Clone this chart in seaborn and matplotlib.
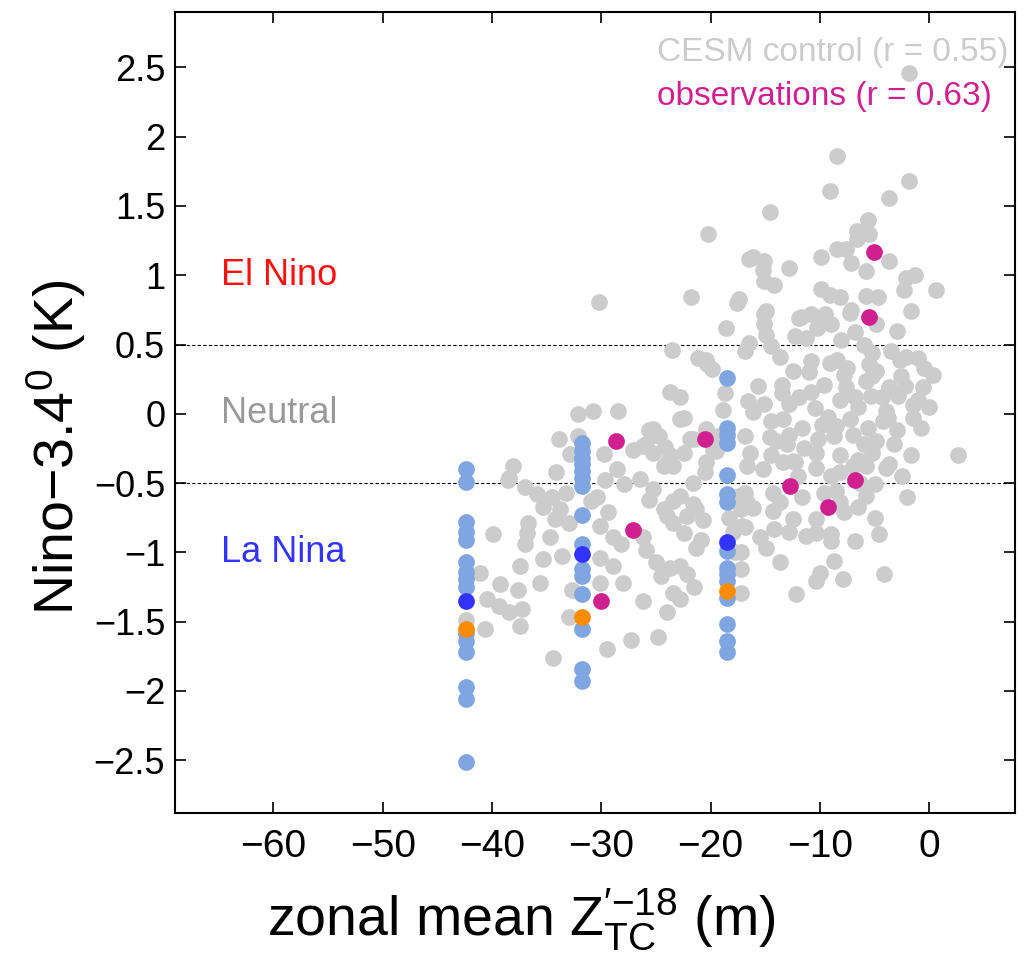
import numpy as np
import pandas as pd
import matplotlib
matplotlib.use("Agg")
import matplotlib.pyplot as plt
import seaborn as sns

# ---------------- data ----------------
cesm_x = [-1.9, -8.4, -1.9, -9.1, -3.7, -14.6, -5.6, -6.6, -5.5, -6.6, -8.4, -7.6, -9.9, -16.1, -15.1, -12.8,
          -7.2, -3.7, -5.8, -15.2, -2.1, -1.3, -15.1, -14.2, 0.6, -2.3, -9.9, -9.1, -8.2, -5.8, -4.7, -17.4,
          -14.9, -7.2, -1.7, -11.7, -10.8,
          -20.2, -16.5, -30.2, -21.8, -17.6, -18.6, -23.5, -21.2, -20.3, -19.9, -16.9, -16.5,
          -15.1, -15.1, -11.9, -9.5, -10.0, -9.0, -7.3, -4.9, -14.9, -12.3, -11.3, -10.3, -6.8, -8.1, -14.5,
          -13.7, -12.5, -9.1, -8.4, -7.5, -5.2, -5.5, -2.7, -2.1, -0.5, -4.9,
          -15.7, -13.5, -10.8, -9.6, -7.6, -5.8, -5.2, -3.7, -2.6, -0.6, -16.6, -15.1, -12.8, -11.9, -10.5,
          -8.2, -6.8, -5.3, -4.3, -2.9, -1.5,
          -16.1, -14.5, -13.4, -11.6, -9.3, -8.5, -7.3, -5.6, -3.8, -1.5, -16.9, -14.6, -12.8, -10.2, -8.7,
          -7.0, -4.9, -3.2,
          -16.4, -14.5, -12.5, -10.4, -8.2, -6.5, -5.2, -3.7, -1.7, 2.6,
          -16.7, -15.2, -13.4, -12.3, -10.4, -8.2, -7.0, -5.8, -4.0,
          -16.9, -16.7, -14.3, -13.7, -11.6, -9.6, -8.5, -8.2, -5.8, -5.0,
          -16.1, -14.3, -12.5, -10.4, -7.8, -6.5, -5.0, -16.9, -14.2, -12.8, -11.3, -10.4, -9.0, -15.5, -14.9,
          -13.7, -9.0, -6.8, -4.6, -8.7, -10.0, -10.4, -7.9, -4.1, -12.2, -17.2, -17.2, -17.2,
          -33.9, -32.1, -32.9, -34.1, -38.1, -38.5, -37.0, -35.9, -34.5, -33.2, -35.3, -33.8, -34.2, -33.0,
          -36.7, -36.8, -37.0, -34.7, -39.9, -35.3, -33.6, -37.4, -35.6, -39.3, -37.6, -40.5, -39.4, -38.4,
          -37.3, -37.4, -40.6, -41.1, -34.4, -33.0, -32.7, -30.1, -29.4, -30.1, -28.9, -30.1, -28.0, -28.9,
          -28.2, -26.2, -25.9, -26.2, -27.3, -24.8, -29.5, -30.9, -30.4, -29.8, -28.6, -29.7, -27.9, -27.1,
          -26.2, -25.3, -25.3, -26.5, -25.3, -25.6, -24.3, -23.4, -23.7, -22.4, -22.8, -21.6, -24.3, -23.4,
          -24.0, -23.4, -22.2, -22.4, -22.8, -21.6, -20.5, -21.6, -21.3, -20.7, -20.9, -21.3, -20.4, -19.8,
          -19.3, -25.0, -23.7, -22.8, -24.5, -22.2, -21.5, -23.4, -24.0, -22.8, -17.8, -18.3, -17.1,
          -18.0, -17.2, -17.4, -18.3,
          -38.4, -32.1, -30.8, -28.5, -23.7, -22.8, -22.4, -25.6, -24.7, -25.9, -24.2, -23.9, -21.9, -20.4,
          -19.5, -18.7, -18.9, -20.4, -42.4,
          -11.0, -6.5, -4.0, -9.8, -6.0, -11.5, -3.0, -13.5, -7.8, -2.2, -3.5, -6.0, -12.0, -9.0, -2.5,
          -14.0, -1.0, 0.0, -0.8, -1.0, 0.3, -3.0, -4.2, -6.3, -10.8, -13.0, -2.0]
cesm_y = [2.46, 1.86, 1.68, 1.61, 1.56, 1.46, 1.40, 1.32, 1.30, 1.26, 1.19, 1.19, 1.13, 1.13, 1.10, 1.05,
          1.09, 1.10, 1.03, 1.04, 0.98, 1.00, 0.96, 0.93, 0.89, 0.89, 0.90, 0.86, 0.84, 0.85, 0.84, 0.83,
          0.74, 0.75, 0.74, 0.70, 0.72,
          1.30, 1.12, 0.81, 0.84, 0.80, 0.62, 0.46, 0.40, 0.36, 0.32, 0.45, 0.51,
          0.72, 0.65, 0.69, 0.72, 0.65, 0.65, 0.73, 0.65, 0.57, 0.56, 0.55, 0.62, 0.59, 0.53, 0.49,
          0.41, 0.31, 0.37, 0.39, 0.33, 0.44, 0.36, 0.39, 0.41, 0.33, 0.31,
          0.20, 0.21, 0.16, 0.21, 0.19, 0.24, 0.27, 0.19, 0.27, 0.19, 0.09, 0.07, 0.07, 0.12, 0.04,
          0.10, 0.12, 0.13, 0.12, 0.13, 0.06,
          0.01, -0.05, -0.04, -0.10, -0.02, -0.09, -0.04, -0.10, -0.03, -0.03, -0.16, -0.17, -0.15, -0.18, -0.16,
          -0.15, -0.20, -0.22,
          -0.28, -0.30, -0.34, -0.28, -0.30, -0.33, -0.28, -0.36, -0.30, -0.30,
          -0.38, -0.40, -0.35, -0.35, -0.39, -0.42, -0.38, -0.38, -0.39,
          -0.57, -0.64, -0.57, -0.64, -0.60, -0.57, -0.56, -0.64, -0.59, -0.51,
          -0.68, -0.70, -0.76, -0.76, -0.71, -0.67, -0.75, -0.82, -0.83, -0.85, -0.88, -0.86, -0.87, -0.89, -0.97,
          -1.07, -0.92, -0.92, -0.87, -1.06, -1.15, -1.21, -1.19, -1.16, -1.30, -1.29, -1.00, -1.12,
          -0.18, -0.16, -0.29, -0.42, -0.38, -0.48, -0.53, -0.58, -0.60, -0.57, -0.67, -0.69, -0.76, -0.79,
          -0.79, -0.86, -0.94, -0.89, -0.87, -1.05, -1.03, -1.10, -1.22, -1.23, -1.27, -1.34, -1.39, -1.43,
          -1.41, -1.53, -1.55, -1.15, -1.76, -1.47, -1.27, -0.81, -0.71, -1.04, -1.10, -1.22, -1.22, -0.89,
          -0.94, -0.89, -0.98, -1.35, -1.63, -1.61, -1.70, -0.63, -0.60, -0.29, -0.40, -0.48, -0.51, -0.26,
          -0.23, -0.11, -0.28, -0.47, -0.54, -0.62, -0.38, -0.38, -0.30, -0.28, -0.04, -0.18, -0.69, -0.63,
          -0.74, -0.79, -0.74, -0.86, -0.59, -0.50, -0.42, -0.65, -0.69, -0.77, -0.91, -0.97, -0.35, -0.26,
          -0.16, -1.07, -1.11, -1.10, -1.17, -1.16, -1.25, -1.29, -1.43, -1.34, -1.00, -1.13, -0.81,
          -0.85, -0.69, -0.59, -0.75,
          -0.46, 0.00, 0.02, 0.02, 0.16, 0.12, -0.03, -0.12, -0.16, -0.22, -0.24, -0.34, -0.18, -0.11,
          -0.27, 0.15, 0.03, 0.39, -1.49,
          0.30, 0.05, 0.02, -0.08, -0.22, -0.25, -0.12, 0.15, 0.28, 0.20, 0.45, 0.50, -0.45, -0.45, -0.45,
          -0.20, 0.10, 0.05, -0.10, 0.40, 0.28, 0.60, -0.05, -0.50, 0.38, -0.22, -0.60]

col_x = [-42.4, -31.8, -18.5]
col1_y = [-0.40, -0.49, -0.78, -0.85, -0.91, -1.07, -1.14, -1.19, -1.25, -1.58, -1.64, -1.72, -1.97, -2.06, -2.51]
col2_y = [-0.21, -0.27, -0.32, -0.36, -0.41, -0.46, -0.52, -0.73, -0.94, -1.12, -1.17, -1.30, -1.55, -1.84, -1.93]
col3_y = [0.26, -0.10, -0.15, -0.21, -0.44, -0.58, -0.64, -0.99, -1.11, -1.16, -1.21, -1.33, -1.52, -1.64, -1.72]
darkblue_y = [-1.35, -1.01, -0.925]
orange_y = [-1.55, -1.47, -1.28]

obs_x = [-28.7, -20.5, -27.1, -30.0, -12.7, -9.3, -6.8, -5.5, -5.1]
obs_y = [-0.20, -0.18, -0.84, -1.35, -0.52, -0.67, -0.48, 0.70, 1.17]

x_ticks = [-60, -50, -40, -30, -20, -10, 0]
y_ticks = [-2.5, -2, -1.5, -1, -0.5, 0, 0.5, 1, 1.5, 2, 2.5]

# ---------------- plot ----------------
sns.set_style("white")
plt.rcParams['font.family'] = ['Liberation Sans', 'DejaVu Sans']
plt.rcParams['mathtext.fontset'] = 'custom'
plt.rcParams['mathtext.rm'] = 'Liberation Sans'
plt.rcParams['mathtext.it'] = 'Liberation Sans'
plt.rcParams['axes.unicode_minus'] = True
plt.rcParams['text.color'] = 'black'
plt.rcParams['axes.labelcolor'] = 'black'
plt.rcParams['xtick.color'] = 'black'
plt.rcParams['ytick.color'] = 'black'

fig = plt.figure(figsize=(10.29, 9.63), dpi=100)
ax = fig.add_axes([0.170, 0.156, 0.816, 0.8315])

S = 145
grey = "#CCCCCC"
lblue = "#7FA6E0"
dblue = "#3333FF"
orange = "#FF8C00"
magenta = "#D0208F"

ax.axhline(0.5, color="black", lw=0.8, ls=(0, (3, 2)), zorder=1)
ax.axhline(-0.5, color="black", lw=0.8, ls=(0, (3, 2)), zorder=1)

df_c = pd.DataFrame({"x": cesm_x, "y": cesm_y})
sns.scatterplot(data=df_c, x="x", y="y", color=grey, s=S, linewidth=0, ax=ax, zorder=2)

bx = [col_x[0]] * len(col1_y) + [col_x[1]] * len(col2_y) + [col_x[2]] * len(col3_y)
by = col1_y + col2_y + col3_y
sns.scatterplot(x=bx, y=by, color=lblue, s=S, linewidth=0, ax=ax, zorder=3)
sns.scatterplot(x=col_x, y=darkblue_y, color=dblue, s=S, linewidth=0, ax=ax, zorder=4)
sns.scatterplot(x=col_x, y=orange_y, color=orange, s=S, linewidth=0, ax=ax, zorder=4)
sns.scatterplot(x=obs_x, y=obs_y, color=magenta, s=S, linewidth=0, ax=ax, zorder=5)

ax.set_xlim(-69, 7.8)
ax.set_ylim(-2.88, 2.9)
ax.set_xticks(x_ticks)
ax.set_yticks(y_ticks)
ax.set_xticklabels([f"{t:g}".replace("-", "\u2212") for t in x_ticks])
ax.set_yticklabels([f"{t:g}".replace("-", "\u2212") for t in y_ticks])
ax.tick_params(direction="in", length=8, width=1.2, top=True, right=True,
               bottom=True, left=True)
ax.tick_params(axis="x", labelsize=28, pad=12)
ax.tick_params(axis="y", labelsize=26, pad=7)
for sp in ax.spines.values():
    sp.set_linewidth(1.5)
    sp.set_color("black")

ax.set_xlabel(r"zonal mean $\mathregular{Z}_{\mathregular{TC}}^{\prime\mathregular{-18}}$ (m)", fontsize=40)
ax.xaxis.set_label_coords(0.412, -0.092)
ax.set_ylabel(r"Nino$-$3.4$^{\mathregular{0}}$ (K)", fontsize=40)
ax.yaxis.set_label_coords(-0.104, 0.456)

ax.text(-64.8, 1.0, "El Nino", color="#FF1010", fontsize=26, ha="left", va="center")
ax.text(-64.8, 0.0, "Neutral", color="#999999", fontsize=26, ha="left", va="center")
ax.text(-64.8, -1.0, "La Nina", color=dblue, fontsize=26, ha="left", va="center")

ax.text(0.574, 0.950, "CESM control (r = 0.55)", color="#CCCCCC", fontsize=24,
        ha="left", va="center", transform=ax.transAxes)
ax.text(0.574, 0.894, "observations (r = 0.63)", color=magenta, fontsize=24,
        ha="left", va="center", transform=ax.transAxes)

fig.savefig("out.png", dpi=100)
